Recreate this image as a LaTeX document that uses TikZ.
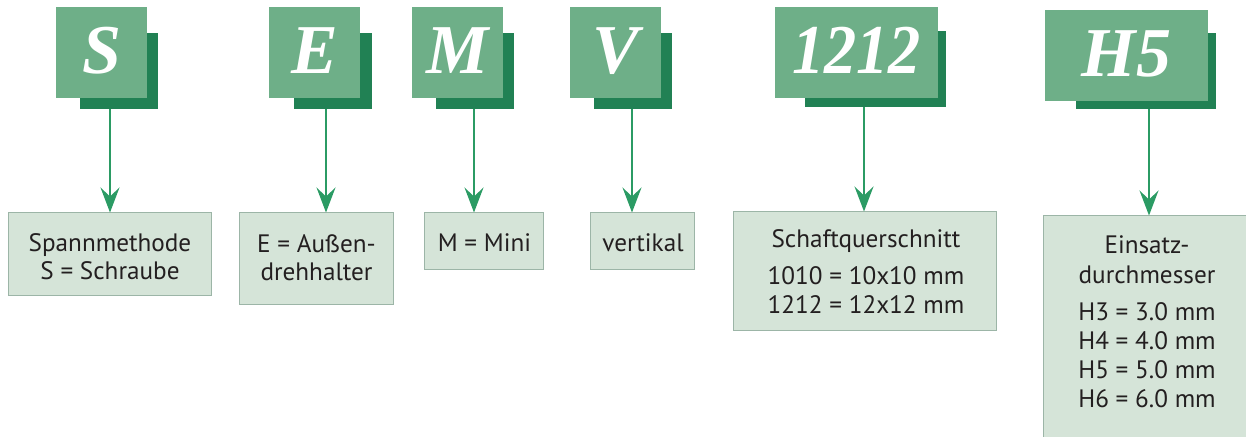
\documentclass[tikz,border=0pt]{standalone}
\usepackage{fontspec}
\usetikzlibrary{arrows.meta}
\newfontfamily\letterfamily{Liberation Serif}
\newfontfamily\infofamily{PT Sans}
\definecolor{frontc}{HTML}{6EAF88}
\definecolor{shadowc}{HTML}{218154}
\definecolor{arrowc}{HTML}{2B9B64}
\definecolor{bfillc}{HTML}{D5E4D8}
\definecolor{bdrawc}{HTML}{9CB5A7}
\definecolor{txtc}{HTML}{231F20}
\tikzset{
  frontbox/.style={fill=frontc, draw=none, inner sep=0pt, outer sep=0pt, anchor=north west},
  shadowbox/.style={fill=shadowc, draw=none, inner sep=0pt, outer sep=0pt, anchor=north west},
  infobox/.style={fill=bfillc, draw=bdrawc, line width=1pt, inner sep=0pt, outer sep=0pt, anchor=north west},
  letter/.style={font=\letterfamily\bfseries\itshape\fontsize{70}{70}\selectfont, text=white, anchor=base, inner sep=0pt},
  info/.style={font=\infofamily\fontsize{25.2}{29}\selectfont, text=txtc, anchor=base, inner sep=0pt},
  conn/.style={draw=arrowc, line width=1.5pt, -{Stealth[length=25pt,width=19pt,inset=9pt]}}
}
\begin{document}
\begin{tikzpicture}[x=1pt,y=1pt]
\useasboundingbox (0,0) rectangle (1246,-436);
% shadows
\node[shadowbox, minimum width=78, minimum height=76] (sS) at (80,-33) {};
\node[shadowbox, minimum width=78, minimum height=76] (sE) at (294,-33) {};
\node[shadowbox, minimum width=78, minimum height=76] (sM) at (436,-33) {};
\node[shadowbox, minimum width=78, minimum height=76] (sV) at (594,-33) {};
\node[shadowbox, minimum width=141, minimum height=76] (sN) at (805,-31) {};
\node[shadowbox, minimum width=140, minimum height=76] (sH) at (1076,-33) {};
% front boxes
\node[frontbox, minimum width=91, minimum height=91] (fS) at (56,-7) {};
\node[frontbox, minimum width=91, minimum height=91] (fE) at (269,-7) {};
\node[frontbox, minimum width=91, minimum height=91] (fM) at (412,-7) {};
\node[frontbox, minimum width=91, minimum height=91] (fV) at (570,-7) {};
\node[frontbox, minimum width=163, minimum height=91] (fN) at (775,-7) {};
\node[frontbox, minimum width=163, minimum height=91] (fH) at (1045,-10) {};
% letters
\node[letter] (lS) at (101.5,-74) {S};
\node[letter] (lE) at (314.5,-74) {E};
\node[letter] (lM) at (457.5,-74) {M};
\node[letter] (lV) at (615.5,-74) {V};
\node[letter, xscale=0.92] (lN) at (856.5,-74) {1212};
\node[letter] (lH) at (1126.5,-77) {H5};
% info boxes
\node[infobox, minimum width=203, minimum height=83] (bS) at (8.5,-212.5) {};
\node[infobox, minimum width=154, minimum height=92] (bE) at (239.5,-212.5) {};
\node[infobox, minimum width=119, minimum height=57] (bM) at (424.5,-212.5) {};
\node[infobox, minimum width=104, minimum height=57] (bV) at (590.5,-212.5) {};
\node[infobox, minimum width=263, minimum height=119] (bN) at (733.5,-211.5) {};
\node[infobox, minimum width=230, minimum height=260] (bH) at (1043.5,-215.5) {};
% arrow positions
\coordinate (aS) at (110,0);
\coordinate (aE) at (326,0);
\coordinate (aM) at (474,0);
\coordinate (aV) at (632,0);
\coordinate (aN) at (864,0);
\coordinate (aH) at (1149,0);
\draw[conn] (sS.south -| aS) -- (bS.north -| aS);
\draw[conn] (sE.south -| aE) -- (bE.north -| aE);
\draw[conn] (sM.south -| aM) -- (bM.north -| aM);
\draw[conn] (sV.south -| aV) -- (bV.north -| aV);
\draw[conn] (sN.south -| aN) -- (bN.north -| aN);
\draw[conn] (sH.south -| aH) -- (bH.north -| aH);
% texts
\node[info] (tS1) at (110,-251) {Spannmethode};
\node[info] (tS2) at (110,-279) {S = Schraube};
\node[info] (tE1) at (316.5,-252) {E = Außen-};
\node[info] (tE2) at (316.5,-280) {drehhalter};
\node[info] (tM1) at (484.5,-251) {M = Mini};
\node[info] (tV1) at (643,-251) {vertikal};
\node[info] (tN1) at (866,-247) {Schaftquerschnitt};
\node[info] (tN2) at (866,-284) {1010 = 10x10 mm};
\node[info] (tN3) at (866,-313) {1212 = 12x12 mm};
\node[info] (tH1) at (1147,-253) {Einsatz-};
\node[info] (tH2) at (1147,-283) {durchmesser};
\node[info] (tH3) at (1147,-320) {H3 = 3.0 mm};
\node[info] (tH4) at (1147,-349) {H4 = 4.0 mm};
\node[info] (tH5) at (1147,-378) {H5 = 5.0 mm};
\node[info] (tH6) at (1147,-407) {H6 = 6.0 mm};
\end{tikzpicture}
\end{document}
